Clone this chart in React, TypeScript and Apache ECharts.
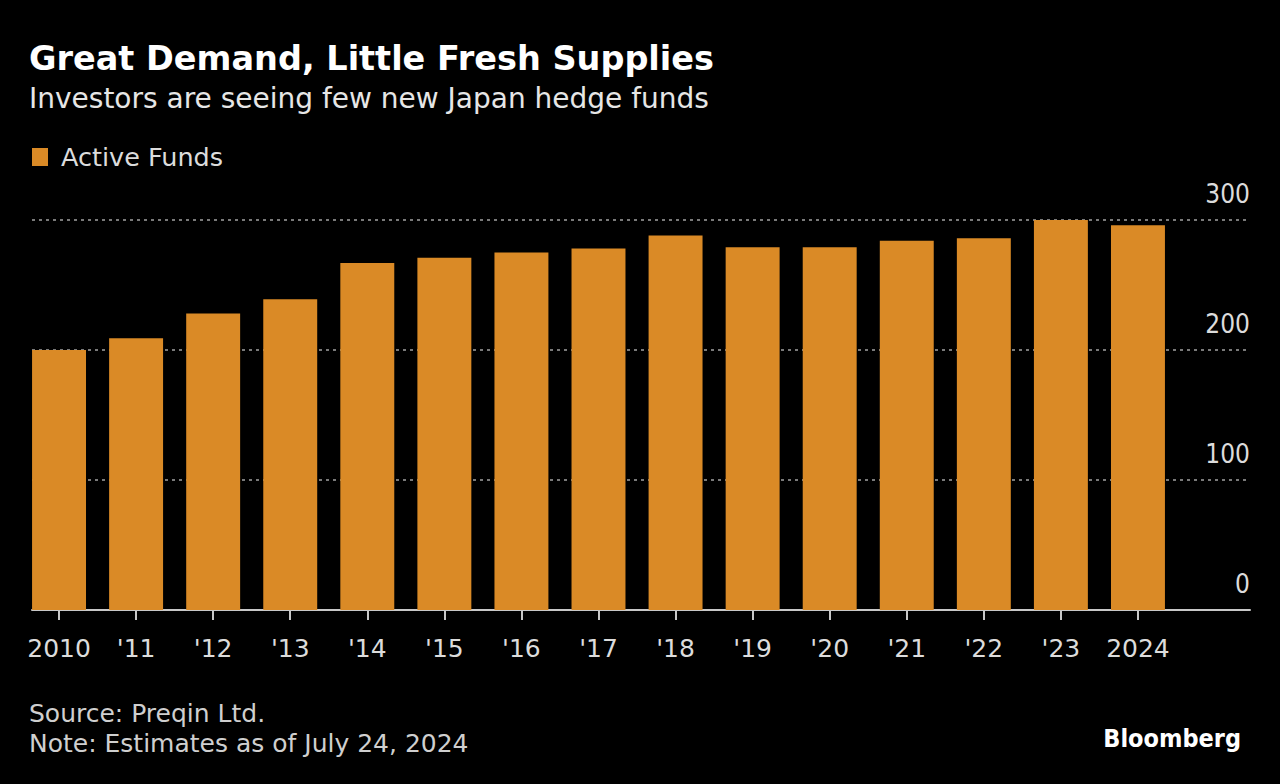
import React, { useEffect, useRef } from "react";
import * as echarts from "echarts";

const years = ["2010", "'11", "'12", "'13", "'14", "'15", "'16", "'17", "'18", "'19", "'20", "'21", "'22", "'23", "2024"];
const activeFunds = [200, 209, 228, 239, 267, 271, 275, 278, 288, 279, 279, 284, 286, 300, 296];
const seriesName = "Active Funds";
const titleText = "Great Demand, Little Fresh Supplies";
const subtitleText = "Investors are seeing few new Japan hedge funds";
const sourceText = "Source: Preqin Ltd.";
const noteText = "Note: Estimates as of July 24, 2024";
const brandText = "Bloomberg";

const FONT = "'DejaVu Sans', sans-serif";
const FONT_C = "'DejaVu Sans Condensed', 'DejaVu Sans', sans-serif";

export default function App() {
  const ref = useRef<HTMLDivElement>(null);
  useEffect(() => {
    document.body.style.margin = "0";
    document.body.style.background = "#000";
    const chart = echarts.init(ref.current!, null, { renderer: "svg" });
    chart.setOption({
      animation: false,
      backgroundColor: "#000",
      textStyle: { fontFamily: FONT },
      legend: {
        data: [seriesName],
        left: 32,
        top: 144,
        padding: 0,
        icon: "rect",
        itemWidth: 16,
        itemHeight: 18,
        textStyle: { color: "#dcdcdc", fontSize: 25.5, fontFamily: FONT, padding: [0, 0, 0, 8] },
      },
      grid: [
        { left: 20.5, right: 103.5, top: 220, bottom: 174 },
        { left: 32, right: 30, top: 220, bottom: 174 },
      ],
      xAxis: [
        {
          gridIndex: 0,
          type: "category",
          data: years,
          axisLine: { show: false },
          axisTick: { show: true, alignWithLabel: true, length: 10, lineStyle: { color: "#c8c8c8", width: 2 } },
          axisLabel: { color: "#dcdcdc", fontSize: 25, margin: 26, interval: 0, fontFamily: FONT },
        },
        {
          gridIndex: 1,
          type: "value",
          min: 0,
          max: 1,
          axisLine: { show: true, onZero: false, lineStyle: { color: "#c8c8c8", width: 2 } },
          axisTick: { show: false },
          axisLabel: { show: false },
          splitLine: { show: false },
        },
      ],
      yAxis: [
        { gridIndex: 0, type: "value", min: 0, max: 300, interval: 100, show: false },
        {
          gridIndex: 1,
          type: "value",
          min: 0,
          max: 300,
          interval: 100,
          position: "right",
          axisLine: { show: false },
          axisTick: { show: false },
          axisLabel: {
            color: "#dcdcdc",
            fontSize: 26,
            fontFamily: FONT_C,
            align: "right",
            verticalAlign: "bottom",
            margin: 0,
            padding: [0, 0, 13, 0],
          },
          splitLine: { lineStyle: { color: "#7a7a7a", type: [3, 4], width: 2 } },
        },
      ],
      series: [
        {
          name: seriesName,
          type: "bar",
          xAxisIndex: 0,
          yAxisIndex: 0,
          data: activeFunds,
          barCategoryGap: "30%",
          itemStyle: { color: "#DA8A26" },
        },
      ],
      graphic: [
        { type: "text", left: 29, top: 41, style: { text: titleText, fill: "#fff", font: `bold 33.5px ${FONT}` } },
        { type: "text", left: 29, top: 84, style: { text: subtitleText, fill: "#e6e6e6", font: `28px ${FONT}` } },
        { type: "text", left: 29, top: 701, style: { text: sourceText, fill: "#cfcfcf", font: `25px ${FONT}` } },
        { type: "text", left: 29, top: 731, style: { text: noteText, fill: "#cfcfcf", font: `25px ${FONT}` } },
        { type: "text", right: 39, top: 726, style: { text: brandText, fill: "#fff", font: `bold 25px ${FONT_C}` } },
      ],
    });
    return () => chart.dispose();
  }, []);
  return <div ref={ref} style={{ position: "fixed", left: 0, top: 0, width: 1280, height: 784 }} />;
}
